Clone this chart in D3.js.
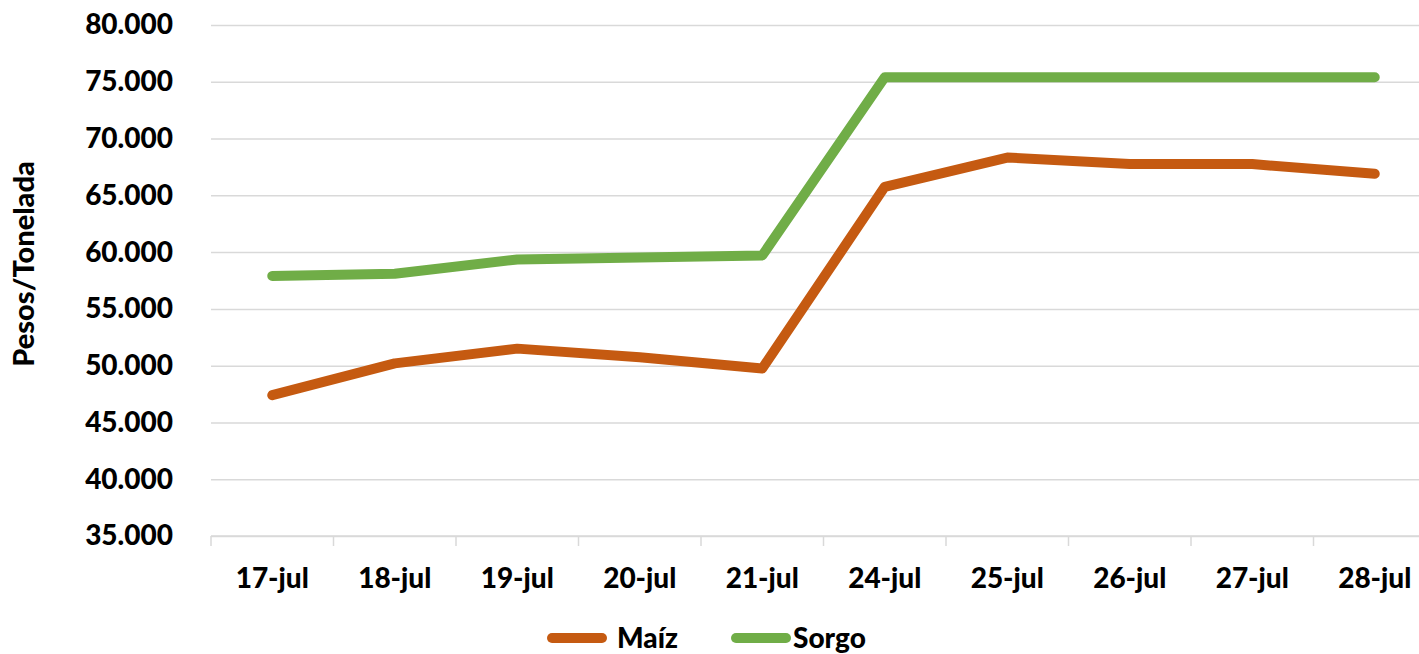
<!DOCTYPE html>
<html>
<head>
<meta charset="utf-8">
<script src="https://cdn.jsdelivr.net/npm/d3@7"></script>
<style>
  body { margin: 0; background: #fff; }
  svg { display: block; font-family: Lato, "Open Sans", sans-serif; font-weight: 900; }
</style>
</head>
<body>
<script>
// precios pizarra (pesos por tonelada)
var dias = ['17-jul', '18-jul', '19-jul', '20-jul', '21-jul', '24-jul', '25-jul', '26-jul', '27-jul', '28-jul'];
var maiz = [47400, 50200, 51500, 50750, 49750, 65750, 68330, 67750, 67750, 66900];
var sorgo = [57900, 58100, 59350, 59520, 59700, 75400, 75400, 75400, 75400, 75400];
var yTicks = [35000, 40000, 45000, 50000, 55000, 60000, 65000, 70000, 75000, 80000];
var serieNames = ['Maíz', 'Sorgo'];
var serieColors = ['#C55A11', '#70AD47'];

var W = 1419, H = 654;
// note: "top" is taken by window.top, so prefix these
var pLeft = 211, pRight = 1436, pTop = 25, pBottom = 536;

var svg = d3.select('body').append('svg').attr('width', W).attr('height', H);

var x = d3.scaleBand().domain(dias).range([pLeft, pRight]).padding(0);
var y = d3.scaleLinear().domain([35000, 80000]).range([pBottom, pTop]);

var loc = d3.formatLocale({decimal: ',', thousands: '.', grouping: [3], currency: ['$', '']});
var fmt = loc.format(',');

// gridlines + y labels
var yAxis = svg.append('g')
    .attr('transform', `translate(${pLeft},0)`)
    .call(d3.axisLeft(y).tickValues(yTicks).tickFormat(fmt).tickSize(-(pRight - pLeft)).tickPadding(38));
yAxis.select('.domain').remove();
yAxis.selectAll('.tick line').attr('stroke', '#d9d9d9').attr('stroke-width', 1.5);
yAxis.selectAll('.tick text').attr('fill', '#000').style('font-size', '28px').style('font-weight', '900')
    .style('font-family', 'Lato, sans-serif');

// x axis: line + ticks at band edges
var xg = svg.append('g');
xg.append('line').attr('x1', pLeft).attr('x2', pRight).attr('y1', y(35000)).attr('y2', y(35000))
    .attr('stroke', '#d9d9d9').attr('stroke-width', 1.5);
xg.selectAll('line.tk').data(dias).enter().append('line').classed('tk', true)
    .attr('x1', d => x(d)).attr('x2', d => x(d))
    .attr('y1', y(35000)).attr('y2', y(35000) + 10)
    .attr('stroke', '#d9d9d9').attr('stroke-width', 1.5);
xg.selectAll('text').data(dias).enter().append('text')
    .attr('x', d => x(d) + x.bandwidth() / 2)
    .attr('y', 588)
    .attr('text-anchor', 'middle')
    .style('font-size', '28px')
    .text(d => d);

// y title
svg.append('text')
    .attr('transform', 'translate(34,264) rotate(-90)')
    .attr('text-anchor', 'middle')
    .style('font-size', '29px')
    .text('Pesos/Tonelada');

// lines
var line = d3.line()
    .x((d, i) => x(dias[i]) + x.bandwidth() / 2)
    .y(d => y(d));

[maiz, sorgo].forEach(function(s, i){
    svg.append('path')
        .datum(s)
        .attr('d', line)
        .attr('fill', 'none')
        .attr('stroke', serieColors[i])
        .attr('stroke-width', 10)
        .attr('stroke-linecap', 'round')
        .attr('stroke-linejoin', 'round');
});

// legend
var legX = [552, 736];
serieNames.forEach(function(n, i){
    var g = svg.append('g').attr('transform', `translate(${legX[i]},638)`);
    g.append('line').attr('x1', 0).attr('x2', 50)
        .attr('stroke', serieColors[i]).attr('stroke-width', 10).attr('stroke-linecap', 'round');
    g.append('text').attr('x', 65 - (i ? 8 : 0)).attr('y', 10).style('font-size', '28px').text(n);
});
</script>
</body>
</html>
